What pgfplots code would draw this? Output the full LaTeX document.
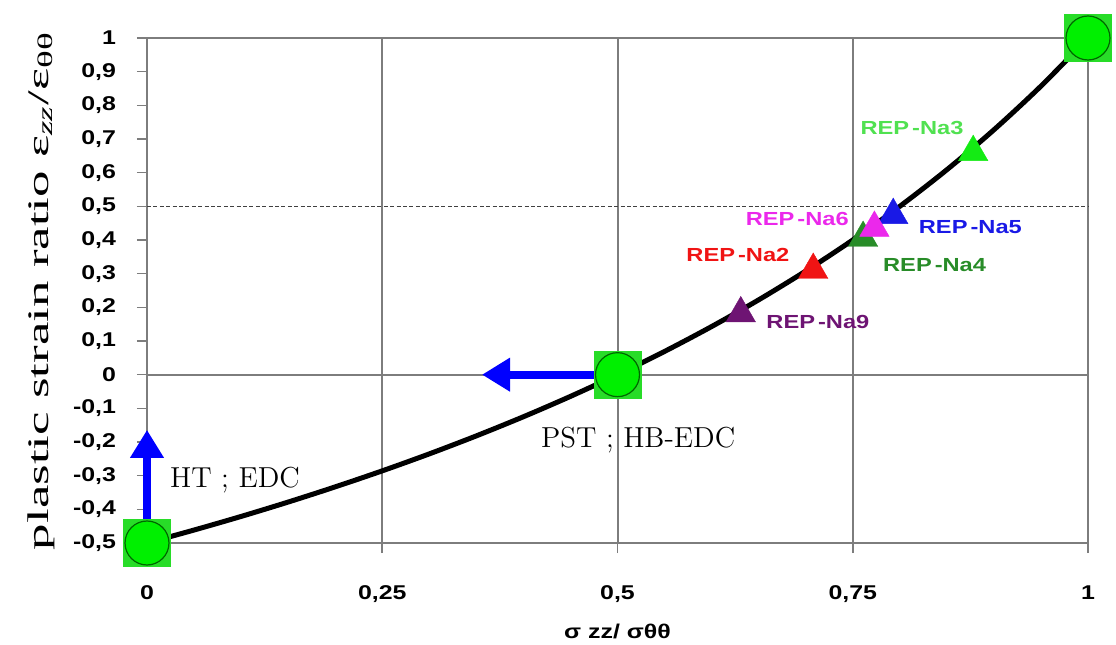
\documentclass[border=0pt]{standalone}
\usepackage{pgfplots}
\pgfplotsset{compat=1.18}
\usepackage{fontspec}
\usetikzlibrary{arrows.meta}
\newfontfamily\ab{Liberation Sans}[FakeStretch=1.25]
\newfontfamily\tms{Liberation Serif}
\definecolor{axgray}{RGB}{125,125,125}
\definecolor{sqgreen}{RGB}{40,220,40}
\definecolor{cgreen}{RGB}{0,240,0}
\definecolor{cNaiii}{RGB}{20,235,20}
\definecolor{lNaiii}{RGB}{80,225,80}
\definecolor{cNavi}{RGB}{235,40,235}
\definecolor{cNav}{RGB}{25,25,230}
\definecolor{cNaii}{RGB}{240,20,20}
\definecolor{cNaiv}{RGB}{40,140,40}
\definecolor{cNaix}{RGB}{110,20,115}
\begin{document}
\begin{tikzpicture}
\useasboundingbox (0,0) rectangle (558bp,322.5bp);
\begin{axis}[
  at={(73.5bp,51bp)}, anchor=south west,
  scale only axis, width=470.5bp, height=252.5bp,
  xmin=0, xmax=1, ymin=-0.5, ymax=1,
  clip=false,
  axis line style={axgray, line width=1bp},
  xtick={0,0.25,0.5,0.75,1},
  xticklabels={0,{0,25},{0,5},{0,75},1},
  ytick={-0.5,-0.4,-0.3,-0.2,-0.1,0,0.1,0.2,0.3,0.4,0.5,0.6,0.7,0.8,0.9,1},
  yticklabels={{-0,5},{-0,4},{-0,3},{-0,2},{-0,1},0,{0,1},{0,2},{0,3},{0,4},{0,5},{0,6},{0,7},{0,8},{0,9},1},
  xtick pos=left, ytick pos=left,
  tick align=outside, major tick length=5bp,
  tick style={axgray, line width=0.8bp},
  xmajorgrids, grid style={axgray, line width=1bp},
  ticklabel style={font=\ab\bfseries\fontsize{10}{12}\selectfont},
  xticklabel style={anchor=north, yshift=-13bp},
  yticklabel style={anchor=east, xshift=-7bp},
  xlabel={σ zz/ σθθ},
  xlabel style={font=\ab\bfseries\fontsize{10}{12}\selectfont, at={(axis description cs:0.5,-0.176)}, anchor=center},
  ylabel={\scalebox{1.77}[1]{plastic strain ratio ε\textsubscript{\itshape zz}/ε\textsubscript{θθ}}},
  ylabel style={font=\tms\fontsize{15}{17}\selectfont, at={(axis description cs:-0.1126,0.5)}, anchor=center},
]
% reference lines
\addplot[axgray, line width=1bp] coordinates {(0,0) (1,0)};
\addplot[black!75, line width=0.7bp, dash pattern=on 2bp off 1.2bp] coordinates {(0,0.5) (1,0.5)};
% curve
\addplot[black, line width=2.5bp, smooth] coordinates {
(0,-0.5) (0.05,-0.4615) (0.1,-0.4211) (0.15,-0.3784) (0.2,-0.3333) (0.25,-0.2857)
(0.3,-0.2353) (0.35,-0.1818) (0.4,-0.125) (0.45,-0.0645) (0.5,0) (0.55,0.0690)
(0.6,0.1429) (0.65,0.2222) (0.7,0.3077) (0.75,0.4) (0.8,0.5) (0.85,0.6087)
(0.9,0.7273) (0.95,0.8571) (1,1)};
% arrows
\addplot[blue, line width=4bp, -{Triangle[width=16bp,length=14bp]}] coordinates {(0,-0.5) (0,-0.164)};
\addplot[blue, line width=4bp, -{Triangle[width=16bp,length=14bp]}] coordinates {(0.5,0) (0.356,0)};
% special points
\addplot[only marks, color=sqgreen, mark=square*, mark size=11.8bp, mark options={solid, line width=0.2bp}] coordinates {(0,-0.5) (0.5,0) (1,1)};
\addplot[only marks, color=black!60!green, mark=*, mark size=11bp, mark options={solid, fill=cgreen, line width=0.6bp}] coordinates {(0,-0.5) (0.5,0) (1,1)};
% experiments
\addplot[only marks, color=cNaiv, mark=triangle*, mark size=8.5bp, mark options={solid, line width=0.2bp}] coordinates {(0.761,0.406)};
\addplot[only marks, color=cNav, mark=triangle*, mark size=8.5bp, mark options={solid, line width=0.2bp}] coordinates {(0.793,0.474)};
\addplot[only marks, color=cNavi, mark=triangle*, mark size=8.5bp, mark options={solid, line width=0.2bp}] coordinates {(0.773,0.436)};
\addplot[only marks, color=cNaii, mark=triangle*, mark size=8.5bp, mark options={solid, line width=0.2bp}] coordinates {(0.708,0.311)};
\addplot[only marks, color=cNaix, mark=triangle*, mark size=8.5bp, mark options={solid, line width=0.2bp}] coordinates {(0.631,0.182)};
\addplot[only marks, color=cNaiii, mark=triangle*, mark size=8.5bp, mark options={solid, line width=0.2bp}] coordinates {(0.878,0.661)};
% labels
\begin{scope}[every node/.style={font=\ab\bfseries\fontsize{9.5}{11}\selectfont}]
\node[text=lNaiii] at (axis cs:0.813,0.733) {REP\kern1.5bp-Na3};
\node[text=cNavi] at (axis cs:0.691,0.462) {REP\kern1.5bp-Na6};
\node[text=cNav] at (axis cs:0.875,0.439) {REP\kern1.5bp-Na5};
\node[text=cNaii] at (axis cs:0.628,0.355) {REP\kern1.5bp-Na2};
\node[text=cNaiv] at (axis cs:0.837,0.326) {REP\kern1.5bp-Na4};
\node[text=cNaix] at (axis cs:0.713,0.157) {REP\kern1.5bp-Na9};
\end{scope}
\node[font=\fontsize{14.5}{16}\selectfont] at (axis cs:0.0935,-0.313) {HT ; EDC};
\node[font=\fontsize{14.5}{16}\selectfont] at (axis cs:0.522,-0.194) {PST ; HB-EDC};
\end{axis}
\end{tikzpicture}
\end{document}
